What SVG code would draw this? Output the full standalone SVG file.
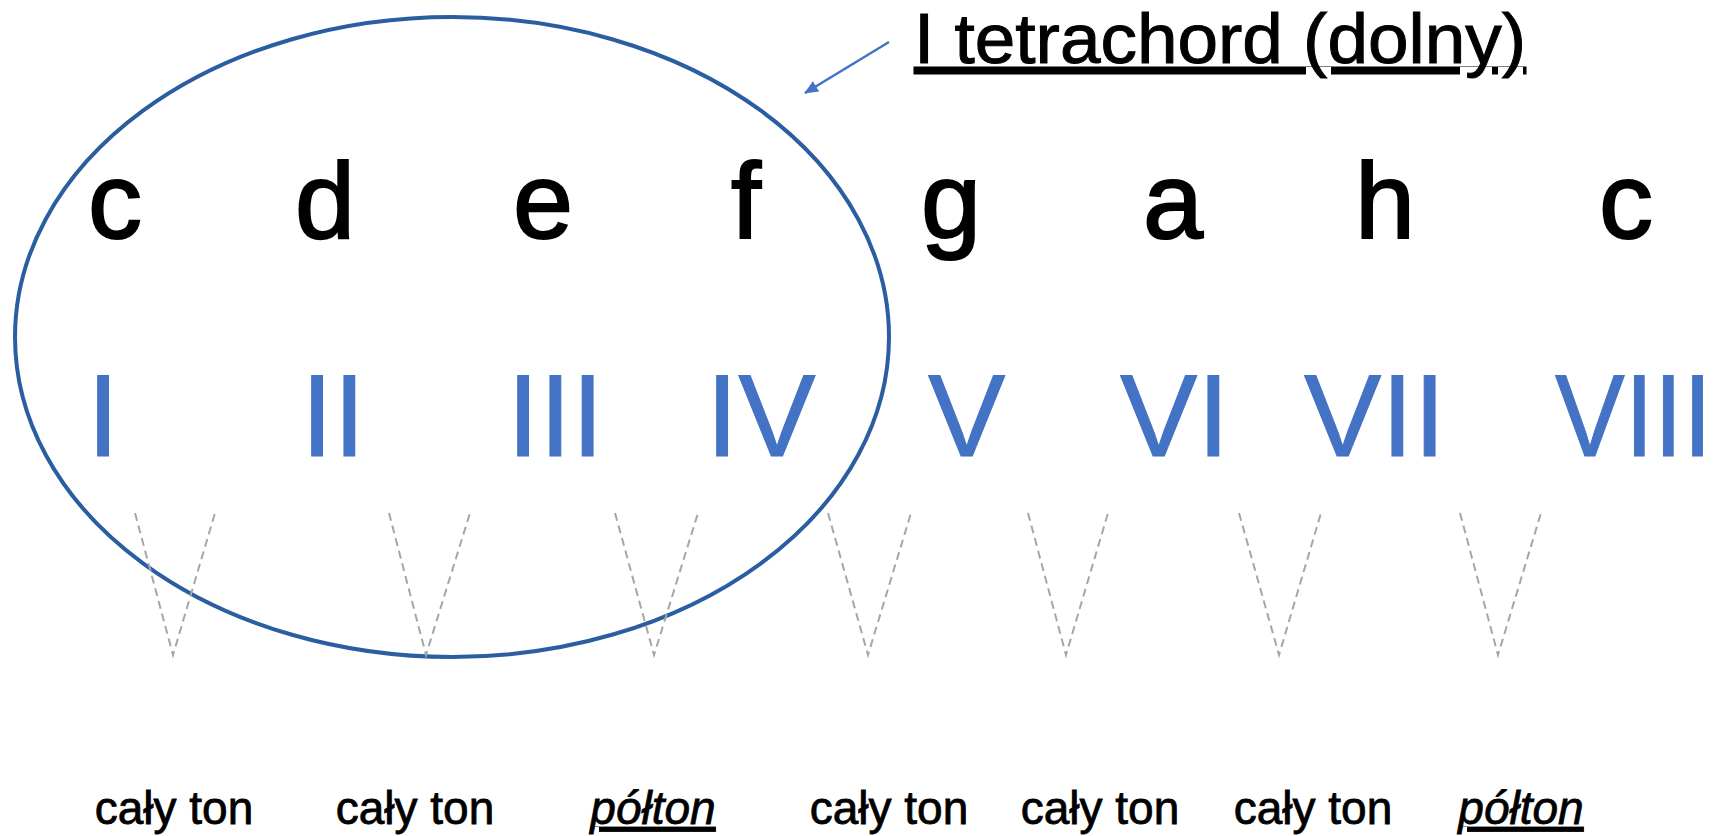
<svg xmlns="http://www.w3.org/2000/svg" width="1720" height="836" viewBox="0 0 1720 836">
<style>
.note{font-family:"Liberation Sans",Arial,sans-serif;font-size:108px;fill:#000;stroke:#000;stroke-width:2;text-anchor:middle}
.deg{font-family:"Liberation Sans",Arial,sans-serif;font-size:116px;fill:#4472C4;stroke:#4472C4;stroke-width:1}
.lbl{font-family:"Liberation Sans",Arial,sans-serif;font-size:46px;fill:#000;stroke:#000;stroke-width:0.8;text-anchor:middle}
.half{font-style:italic;text-decoration:underline}
.title{font-family:"Liberation Sans",Arial,sans-serif;font-size:70px;fill:#000;stroke:#000;stroke-width:1;text-decoration:underline}
.v{fill:none;stroke:#A6A6A6;stroke-width:2;stroke-dasharray:8 5}
</style>
<defs>
<marker id="ah" markerWidth="14" markerHeight="12" refX="13" refY="6" orient="auto" markerUnits="userSpaceOnUse" viewBox="0 0 14 12">
<path d="M0,0 L14,6 L0,12 Z" fill="#4472C4"/>
</marker>
</defs>
<rect width="1720" height="836" fill="#fff"/>
<g id="tetrachord">
<ellipse cx="452" cy="337" rx="437" ry="320" fill="none" stroke="#2A5EA1" stroke-width="4"/>
</g>
<g id="title">
<text class="title" x="914" y="63" textLength="612" lengthAdjust="spacingAndGlyphs">I tetrachord (dolny)</text>
</g>
<g id="notes">
<text class="note" x="115" y="238">c</text>
<text class="note" x="325" y="238">d</text>
<text class="note" x="543" y="238">e</text>
<text class="note" x="746" y="238">f</text>
<text class="note" x="951" y="238">g</text>
<text class="note" x="1173" y="238">a</text>
<text class="note" x="1385" y="238">h</text>
<text class="note" x="1626" y="238">c</text>
</g>
<g id="degrees">
<text class="deg" x="87" y="456">I</text>
<text class="deg" x="301" y="456">II</text>
<text class="deg" x="507" y="456">III</text>
<text class="deg" x="706" y="456">IV</text>
<text class="deg" x="928" y="456">V</text>
<text class="deg" x="1120" y="456">VI</text>
<text class="deg" x="1304" y="456">VII</text>
<text class="deg" x="1712" y="456" text-anchor="end" textLength="157" lengthAdjust="spacingAndGlyphs">VIII</text>
</g>
<g id="connectors">
<line x1="889" y1="42" x2="805" y2="93" stroke="#4472C4" stroke-width="2.5" marker-end="url(#ah)"/>
<path class="v" d="M135,513 L173,655 L215,513"/>
<path class="v" d="M389,513 L426,655 L470,513"/>
<path class="v" d="M615,513 L654,655 L698,513"/>
<path class="v" d="M828,513 L868,655 L911,513"/>
<path class="v" d="M1028,513 L1066,655 L1108,513"/>
<path class="v" d="M1239,513 L1279,655 L1321,513"/>
<path class="v" d="M1460,513 L1498,655 L1541,513"/>
</g>
<g id="intervals">
<text class="lbl" x="174" y="824">cały ton</text>
<text class="lbl" x="415" y="824">cały ton</text>
<text class="lbl half" x="653" y="824">półton</text>
<text class="lbl" x="889" y="824">cały ton</text>
<text class="lbl" x="1100" y="824">cały ton</text>
<text class="lbl" x="1313" y="824">cały ton</text>
<text class="lbl half" x="1521" y="824">półton</text>
</g>
</svg>
